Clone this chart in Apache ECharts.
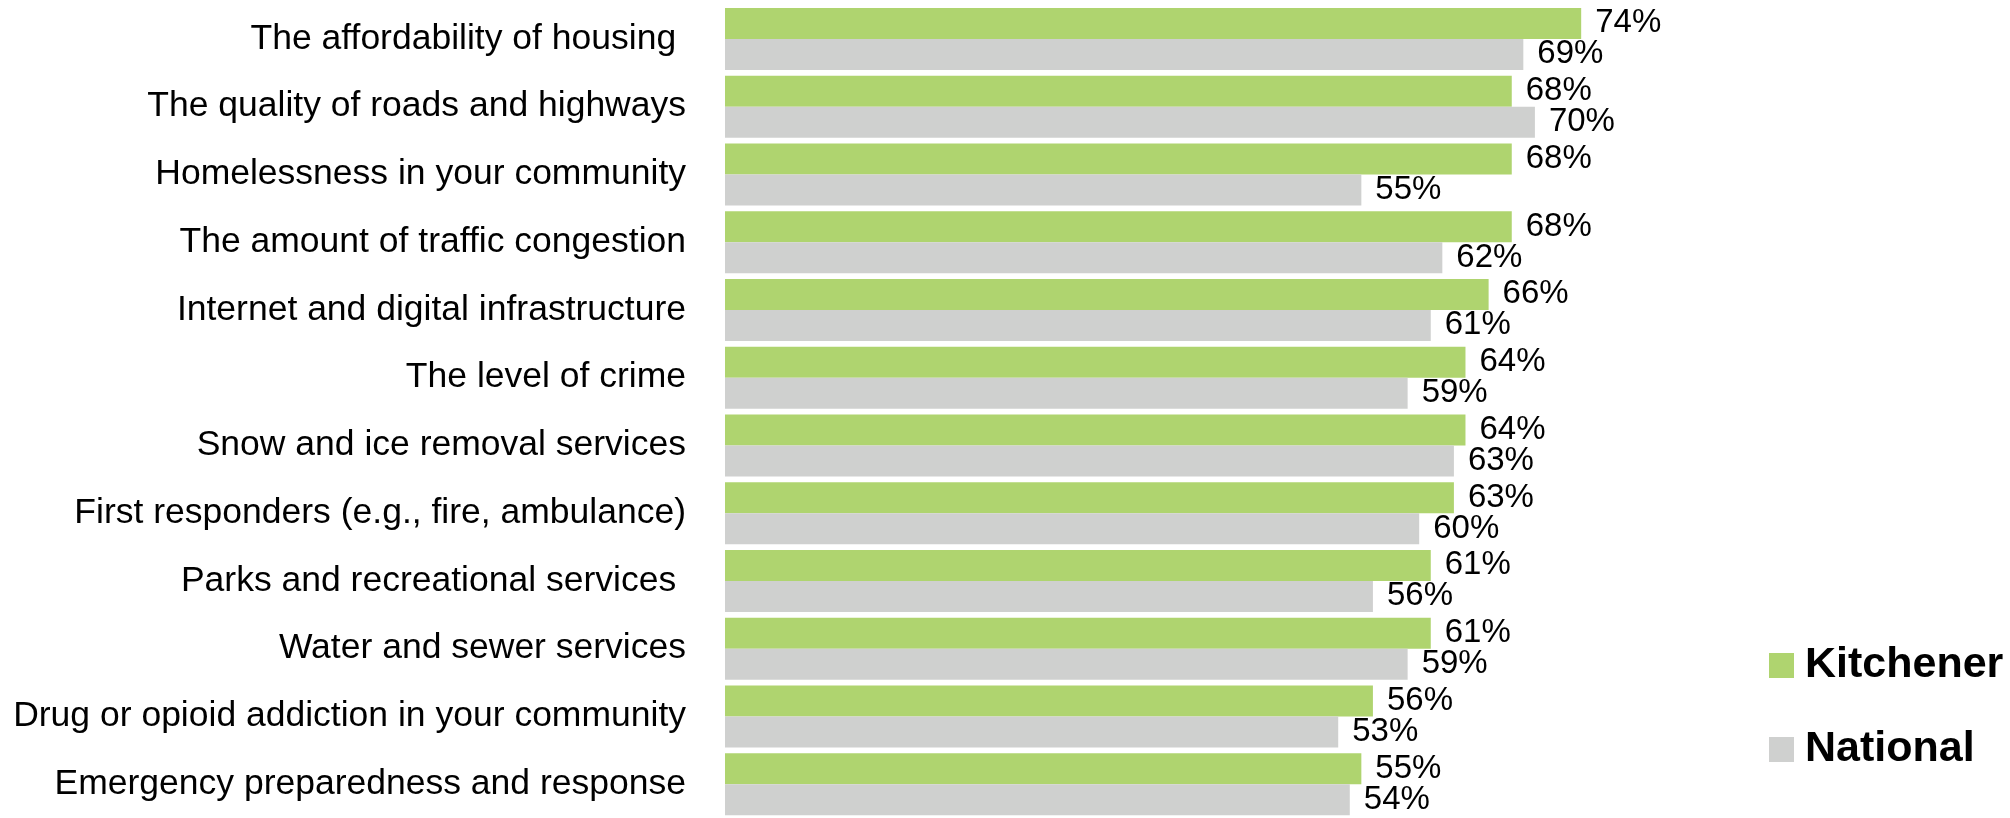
<!DOCTYPE html>
<html>
<head>
<meta charset="utf-8">
<script src="https://cdn.jsdelivr.net/npm/echarts@6/dist/echarts.min.js"></script>
<style>
html,body{margin:0;padding:0;background:#fff;}
#chart{width:2010px;height:818px;}
</style>
</head>
<body>
<div id="chart"></div>
<script>
const categories = [
  "The affordability of housing ",
  "The quality of roads and highways",
  "Homelessness in your community",
  "The amount of traffic congestion",
  "Internet and digital infrastructure",
  "The level of crime",
  "Snow and ice removal services",
  "First responders (e.g., fire, ambulance)",
  "Parks and recreational services ",
  "Water and sewer services",
  "Drug or opioid addiction in your community",
  "Emergency preparedness and response"
];
const kitchener = [74, 68, 68, 68, 66, 64, 64, 63, 61, 61, 56, 55];
const national  = [69, 70, 55, 62, 61, 59, 63, 60, 56, 59, 53, 54];
const seriesNames = ["Kitchener", "National"];

const FONT = '"Liberation Sans", Arial, sans-serif';
const chart = echarts.init(document.getElementById('chart'));
const labelCfg = {
  show: true,
  position: 'right',
  distance: 14,
  formatter: '{c}%',
  color: '#000',
  fontFamily: FONT,
  fontSize: 33
};
chart.setOption({
  animation: false,
  backgroundColor: '#fff',
  grid: { left: 725, top: 5, width: 1157, height: 819, containLabel: false },
  xAxis: { type: 'value', min: 0, max: 100, show: false },
  yAxis: {
    type: 'category',
    data: categories,
    inverse: true,
    axisLine: { show: false },
    axisTick: { show: false },
    splitLine: { show: false },
    axisLabel: { margin: 39, color: '#000', fontFamily: FONT, fontSize: 35.5 }
  },
  legend: {
    orient: 'vertical',
    left: 1764,
    top: 639,
    itemWidth: 25,
    itemHeight: 25,
    itemGap: 41,
    icon: 'rect',
    data: seriesNames,
    textStyle: { color: '#000', fontFamily: FONT, fontWeight: 'bold', fontSize: 43, lineHeight: 43, padding: [0, 0, 0, 6] }
  },
  series: [
    { name: seriesNames[0], type: 'bar', data: kitchener, barWidth: 31, barGap: '0%',
      itemStyle: { color: '#AFD46F' }, label: labelCfg },
    { name: seriesNames[1], type: 'bar', data: national, barWidth: 31, barGap: '0%',
      itemStyle: { color: '#CFD0CF' }, label: labelCfg }
  ]
});
</script>
</body>
</html>
